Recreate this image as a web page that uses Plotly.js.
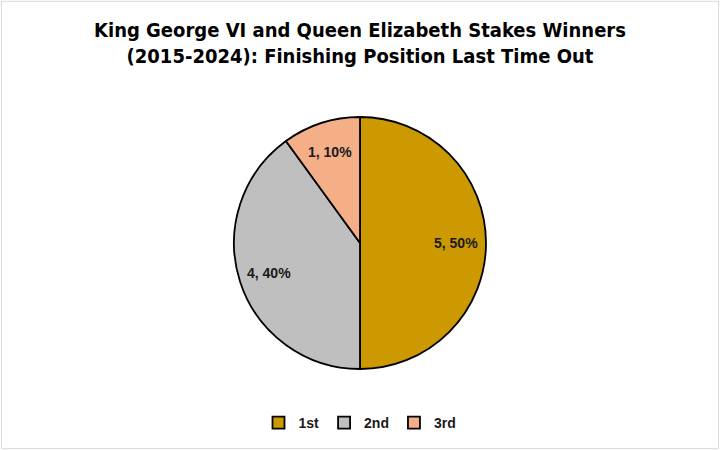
<!DOCTYPE html>
<html>
<head>
<meta charset="utf-8">
<script src="https://cdn.plot.ly/plotly-3.0.1.min.js"></script>
<style>
  html, body { margin: 0; padding: 0; background: #fff; }
  #chart { width: 720px; height: 450px; }
</style>
</head>
<body>
<div id="chart"></div>
<script>
/* Pie of last-time-out finishing positions */

const POSITIONS = ['1st', '2nd', '3rd'];
const WINNERS = [5, 4, 1];
const SLICE_COLORS = ['#CC9900', '#BFBFBF', '#F4AE88'];

const W = 720, H = 450;
const PIE_Y = [0.18, 0.74];           // pie domain (paper fraction)
const LABEL_R = 0.76;                 // data labels sit at ~3/4 of the radius, like Excel

const labelFont = { family: 'Liberation Sans, Arial, sans-serif', size: 14, color: '#1a1a1a', weight: 'bold' };

// data labels "value, pct%" at the middle angle of each slice (clockwise from 12 o'clock)
function sliceLabels() {
  const total = WINNERS.reduce((a, b) => a + b, 0);
  const cx = 0.5, cy = (PIE_Y[0] + PIE_Y[1]) / 2;
  const rPx = (PIE_Y[1] - PIE_Y[0]) * H / 2;
  let acc = 0;
  return WINNERS.map(v => {
    const mid = (acc + v / 2) / total * 2 * Math.PI;
    acc += v;
    return {
      xref: 'paper', yref: 'paper',
      x: cx + Math.sin(mid) * rPx * LABEL_R / W,
      y: cy + Math.cos(mid) * rPx * LABEL_R / H,
      text: v + ', ' + Math.round(v / total * 100) + '%',
      showarrow: false,
      font: labelFont,
      xanchor: 'center', yanchor: 'middle',
    };
  });
}

const pieTrace = {
  type: 'pie',
  labels: POSITIONS,
  values: WINNERS,
  sort: false,
  direction: 'clockwise',
  rotation: 0,
  marker: { colors: SLICE_COLORS, line: { color: '#000', width: 1.8 } },
  textinfo: 'none',
  hoverinfo: 'label+value+percent',
  domain: { x: [0, 1], y: PIE_Y },
};

const layout = {
  width: W,
  height: H,
  paper_bgcolor: '#fff',
  margin: { t: 0, b: 0, l: 0, r: 0 },
  title: {
    text: '<b>King George VI and Queen Elizabeth Stakes Winners<br>(2015-2024): Finishing Position Last Time Out</b>',
    font: { family: 'Liberation Sans Narrow, DejaVu Sans Condensed, sans-serif', size: 20, color: '#000' },
    x: 0.5,
    xanchor: 'center',
    yref: 'container',
    y: 0.918,
    yanchor: 'middle',
  },
  showlegend: true,
  legend: {
    orientation: 'h',
    x: 0.5,
    xanchor: 'center',
    y: 0.06,
    yanchor: 'middle',
    traceorder: 'normal',
    font: labelFont,
    itemwidth: 30,
  },
  annotations: sliceLabels(),
  shapes: [{
    type: 'rect', xref: 'paper', yref: 'paper',
    x0: 0.002, x1: 0.998, y0: 0.003, y1: 0.997,
    line: { color: '#d9d9d9', width: 1 },
  }],
};

Plotly.newPlot('chart', [pieTrace], layout, { displayModeBar: false, staticPlot: true });
</script>
</body>
</html>
